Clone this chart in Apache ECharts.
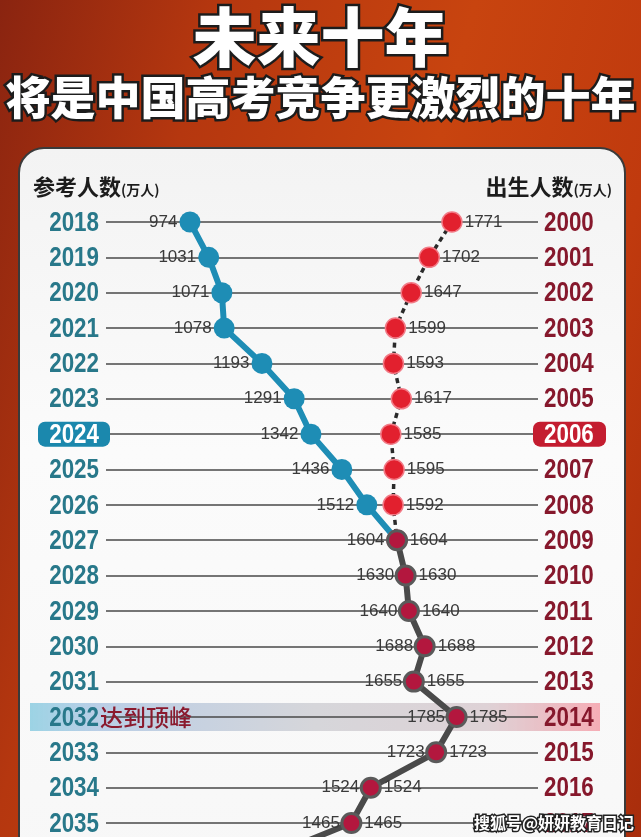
<!DOCTYPE html>
<html><head><meta charset="utf-8">
<script src="https://cdn.jsdelivr.net/npm/echarts@6/dist/echarts.min.js"></script>
<style>
html,body{margin:0;padding:0;}
body{width:641px;height:837px;overflow:hidden;position:relative;
background:linear-gradient(105deg,#8a2410 0%,#b5370f 25%,#c8440f 55%,#c03a0e 80%,#a82d0c 100%);}
#panel{position:absolute;left:18px;top:147px;width:608px;height:760px;background:linear-gradient(180deg,#f3f3f3,#fbfbfb 40%,#f7f7f7);border:2px solid #3a3a3a;border-radius:26px;box-sizing:border-box;}
#chart{position:absolute;left:0;top:0;width:641px;height:880px;}
</style></head>
<body><div id="panel"></div><div id="chart"></div>
<script>
// ---- data ----
const examYears = ['2018','2019','2020','2021','2022','2023','2024','2025','2026','2027','2028','2029','2030','2031','2032','2033','2034','2035','2036'];
const birthYears = ['2000','2001','2002','2003','2004','2005','2006','2007','2008','2009','2010','2011','2012','2013','2014','2015','2016','2017','2018'];
const examTakers = [974,1031,1071,1078,1193,1291,1342,1436,1512,1604];          // 2018-2027 参考人数
const births = [1771,1702,1647,1599,1593,1617,1585,1595,1592,1604];              // 2000-2009 出生人数
const merged = [1604,1630,1640,1688,1655,1785,1723,1524,1465,1200];              // 2027-2036 = births 2009-2018
const examHighlight = '2024';
const birthHighlight = '2006';
const peakYear = '2032';
const peakText = '达到顶峰';

const N = examYears.length;
function pad(arr, start){ const out = new Array(N).fill(null); arr.forEach((v,i)=>{ out[start+i]=v; }); return out; }
const examData = pad(examTakers, 0);
const birthData = pad(births, 0);
const mergedStart = examTakers.length - 1;
const mergedData = pad(merged, mergedStart);

const chart = echarts.init(document.getElementById('chart'), null, {renderer:'canvas'});
const labelBase = {color:'#3a3a3a', fontSize:17, fontFamily:'Liberation Sans, Arial, sans-serif'};

const option = {
  backgroundColor:'transparent',
  animation:false,
  title:[
    {text:'未来十年', left:'center', top:0, textStyle:{color:'#ffffff', fontSize:64, fontWeight:900, fontFamily:'Noto Sans CJK SC', textBorderColor:'#1c1c1c', textBorderWidth:5}},
    {text:'将是中国高考竞争更激烈的十年', left:'center', top:70, textStyle:{color:'#ffffff', fontSize:45, fontWeight:900, fontFamily:'Noto Sans CJK SC', textBorderColor:'#1c1c1c', textBorderWidth:5}}
  ],
  grid:{left:106, right:103, top:222, bottom:21.6, containLabel:false},
  xAxis:{type:'value', min:718.5, max:2032.8, show:false},
  yAxis:[
    {type:'category', data:examYears, inverse:true, boundaryGap:false, position:'left',
     axisLine:{show:false}, axisTick:{show:false}, axisLabel:{show:false},
     splitLine:{show:true, lineStyle:{color:'#484848', width:1.5}}},
    {type:'category', data:birthYears, inverse:true, boundaryGap:false, position:'right',
     axisLine:{show:false}, axisTick:{show:false}, axisLabel:{show:false}, splitLine:{show:false}}
  ],
  series:[
    {name:'参考人数', type:'line', yAxisIndex:0, data:examData,
     symbol:'circle', symbolSize:21, z:3,
     lineStyle:{color:'#1e8db5', width:6},
     itemStyle:{color:'#1e8db5'},
     label:{show:true, position:'left', distance:2, ...labelBase}},
    {name:'出生人数', type:'line', yAxisIndex:0, data:birthData,
     symbol:'circle', symbolSize:20, z:4,
     lineStyle:{color:'#2a2a2a', width:3.5, type:[5,4]},
     itemStyle:{color:'#e2202e', borderColor:'#f27a86', borderWidth:1.5},
     label:{show:true, position:'right', distance:2, ...labelBase}},
    {name:'合并', type:'line', yAxisIndex:0, data:mergedData,
     symbol:'circle', symbolSize:19, z:5,
     lineStyle:{color:'#4a4a4a', width:6},
     itemStyle:{color:'#b3173e', borderColor:'#5a5a5a', borderWidth:3},
     label:{show:true, position:'right', distance:2, ...labelBase,
       formatter:p=> p.dataIndex===mergedStart ? '' : String(p.value)}},
    {name:'合并左', type:'line', yAxisIndex:0, data:mergedData,
     symbol:'circle', symbolSize:19, z:6,
     lineStyle:{width:0, color:'rgba(0,0,0,0)'},
     itemStyle:{color:'rgba(0,0,0,0)', borderWidth:0},
     label:{show:true, position:'left', distance:2, ...labelBase,
       formatter:p=> p.dataIndex===mergedStart ? '' : String(p.value)}}
  ]
};
chart.setOption(option);

// year tick labels, positioned from the category axis
const yearFont = 'bold 28px "Liberation Sans", Arial, sans-serif';
const graphics = [];
examYears.forEach((yr, i)=>{
  const y = chart.convertToPixel({yAxisIndex:0}, yr);
  const by = birthYears[i];
  const hlL = yr === examHighlight, hlR = by === birthHighlight;
  if (hlL) graphics.push({type:'rect', z:8, silent:true, shape:{x:38, y:y-12.5, width:72, height:25, r:7}, style:{fill:'#1b88ad'}});
  if (hlR) graphics.push({type:'rect', z:8, silent:true, shape:{x:533, y:y-12.5, width:73, height:25, r:7}, style:{fill:'#c41d30'}});
  graphics.push({type:'text', z:9, silent:true, x:99, y:y+1, scaleX:0.8,
    style:{text:yr, align:'right', verticalAlign:'middle', font:yearFont, fill: hlL ? '#ffffff' : '#28788a'}});
  graphics.push({type:'text', z:9, silent:true, x:544, y:y+1, scaleX:0.8,
    style:{text:by, align:'left', verticalAlign:'middle', font:yearFont, fill: hlR ? '#ffffff' : '#86182c'}});
});

const peakY = chart.convertToPixel({yAxisIndex:0}, peakYear);
graphics.push(
  {type:'rect', z:-1, silent:true, shape:{x:30, y:peakY-14, width:570, height:28},
   style:{fill:{type:'linear', x:0, y:0, x2:1, y2:0, colorStops:[
     {offset:0, color:'rgba(140,205,225,0.85)'},{offset:0.12, color:'rgba(170,195,225,0.8)'},
     {offset:0.5, color:'rgba(205,205,210,0.8)'},{offset:0.8, color:'rgba(215,200,205,0.8)'},
     {offset:1, color:'rgba(245,160,170,0.85)'}]}}},
  {type:'text', z:10, x:100, y:peakY, style:{text:peakText, fill:'#8a1a2e', verticalAlign:'middle', font:'500 23px "Noto Sans CJK SC"'}},
  {type:'text', z:10, left:33, top:176, style:{text:'{a|参考人数}{b|(万人)}', rich:{a:{fill:'#1c1c1c', font:'bold 22px "Noto Sans CJK SC"'}, b:{fill:'#1c1c1c', font:'bold 14px "Noto Sans CJK SC"', padding:[5,0,0,0]}}}},
  {type:'text', z:10, right:29, top:176, style:{text:'{a|出生人数}{b|(万人)}', rich:{a:{fill:'#1c1c1c', font:'bold 22px "Noto Sans CJK SC"'}, b:{fill:'#1c1c1c', font:'bold 14px "Noto Sans CJK SC"', padding:[5,0,0,0]}}}},
  {type:'text', z:20, x:634, y:823, style:{text:'搜狐号@妍妍教育日记', align:'right', verticalAlign:'middle', fill:'#ffffff', font:'bold 16px "Noto Sans CJK SC"', stroke:'#222', lineWidth:3}}
);
chart.setOption({graphic: graphics});
</script>
</body></html>
